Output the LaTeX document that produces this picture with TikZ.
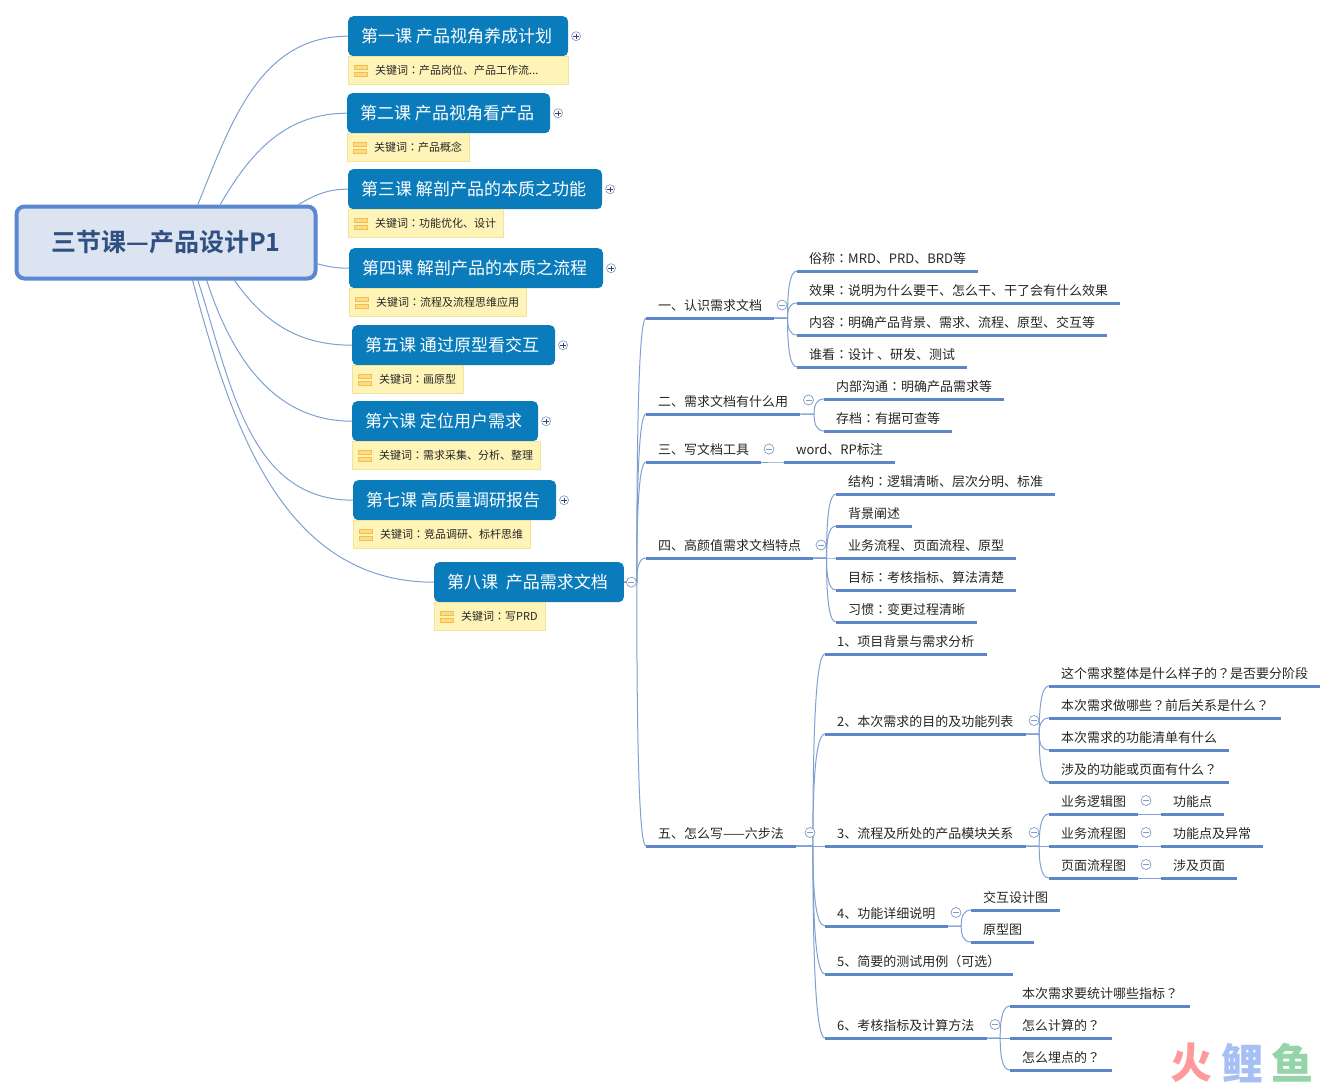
\documentclass[tikz,border=0pt]{standalone}
\usepackage{fontspec}
\setmainfont{Noto Sans CJK SC}[BoldFont=* Bold]
\newfontfamily\tcfont{Noto Sans CJK TC}
\newfontfamily\markfont{Noto Sans CJK SC Black}
\newcommand\cln{{\tcfont ：}}
\newcommand\qmk{{\tcfont ？}}
\usetikzlibrary{calc,backgrounds,positioning}
\definecolor{rootfill}{HTML}{DCE4F2}
\definecolor{rootline}{HTML}{5B88D0}
\definecolor{rootink}{HTML}{2F5080}
\definecolor{lesson}{HTML}{0A7CBC}
\definecolor{notefill}{HTML}{FFF4B8}
\definecolor{noteline}{HTML}{F6E39A}
\definecolor{noteicon}{HTML}{F3BE55}
\definecolor{noteinner}{HTML}{FFDB80}
\definecolor{branch}{HTML}{5C86C6}
\definecolor{thin}{HTML}{7FA0D2}
\definecolor{ink}{HTML}{262626}
\definecolor{btnline}{HTML}{8C9CC4}
\definecolor{btnink}{HTML}{33407A}
\definecolor{markred}{HTML}{FF9A9A}
\definecolor{markblue}{HTML}{A6C0F5}
\definecolor{markgreen}{HTML}{94D4A8}
\tikzset{
  rootnode/.style={shape=rectangle,rounded corners=8pt,draw=rootline,fill=rootfill,line width=4pt,text=rootink,font=\bfseries\fontsize{25pt}{28pt}\selectfont,minimum width=299pt,minimum height=72pt},
  lessonnode/.style={shape=rectangle,rounded corners=5pt,fill=lesson,text=white,font=\fontsize{17pt}{20pt}\selectfont,anchor=north west,minimum height=40pt,inner xsep=13pt,inner ysep=0pt,execute at end node={\hspace*{3pt}}},
  notenode/.style={shape=rectangle,draw=noteline,fill=notefill,text=ink,font=\fontsize{11pt}{13pt}\selectfont,anchor=north west,minimum height=28pt,inner xsep=7pt,inner ysep=0pt},
  barsnode/.style={shape=rectangle,minimum width=14pt,minimum height=12pt,inner sep=0pt,path picture={
      \draw[draw=noteicon,fill=noteinner,line width=.8pt] ([shift={(.4pt,-.4pt)}]path picture bounding box.north west) rectangle ([shift={(-.4pt,1.5pt)}]path picture bounding box.east);
      \draw[draw=noteicon,fill=noteinner,line width=.8pt] ([shift={(.4pt,-1.5pt)}]path picture bounding box.west) rectangle ([shift={(-.4pt,.4pt)}]path picture bounding box.south east);}},
  leaf/.style={shape=rectangle,anchor=south west,text=ink,font=\fontsize{13pt}{15pt}\selectfont,inner xsep=12pt,inner ysep=4pt,text height=10pt,text depth=3pt,
    append after command={(\tikzlastnode.south west) edge[uline] (\tikzlastnode.south east)}},
  uline/.style={draw=branch,line width=3pt},
  stem/.style={draw=thin,line width=1pt},
  bendto/.style={draw=thin,line width=1pt,to path={let \p1=(\tikztostart),\p2=(\tikztotarget),\p3=({\x1+0.58*(\x2-\x1)},\y1) in
      -- (\p3) .. controls ($(\p3)!0.55!(\x3,\y2)$) and ({\x3+0.2*(\x2-\x3)},\y2) .. (\p2)}},
  plusbtn/.style={shape=circle,draw=btnline,fill=white,minimum size=9pt,inner sep=0pt,line width=.7pt,path picture={
      \draw[btnink,line width=.8pt] ([xshift=1.8pt]path picture bounding box.west) -- ([xshift=-1.8pt]path picture bounding box.east);
      \draw[btnink,line width=.8pt] ([yshift=-1.8pt]path picture bounding box.north) -- ([yshift=1.8pt]path picture bounding box.south);}},
  minusbtn/.style={shape=circle,draw=thin!85!gray,fill=white,minimum size=10pt,inner sep=0pt,line width=.7pt,path picture={
      \draw[thin!85!gray,line width=.8pt] ([xshift=2pt]path picture bounding box.west) -- ([xshift=-2pt]path picture bounding box.east);}},
  markchar/.style={font=\markfont\fontsize{42pt}{44pt}\selectfont,inner sep=0pt}
}
\begin{document}
\begin{tikzpicture}[x=1pt,y=-1pt]
    \useasboundingbox (0,0) rectangle (1338,1087);

    \node[rootnode] (root) at (166,242.5) {三节课—产品设计P1};

    \node[lessonnode] (c1) at (348,16) {第一课 产品视角养成计划};
    \node[lessonnode] (c2) at (347,93) {第二课 产品视角看产品};
    \node[lessonnode] (c3) at (348,169) {第三课 解剖产品的本质之功能};
    \node[lessonnode] (c4) at (349,248) {第四课 解剖产品的本质之流程};
    \node[lessonnode] (c5) at (352,325) {第五课 通过原型看交互};
    \node[lessonnode] (c6) at (352,401) {第六课 定位用户需求};
    \node[lessonnode] (c7) at (353,480) {第七课 高质量调研报告};
    \node[lessonnode] (c8) at (434,562) {第八课~~产品需求文档};

    \node[notenode,minimum width=220pt,align=left,text width=206pt] (n1) at (c1.south west) {\hspace*{20pt}关键词\cln 产品岗位、产品工作流...};
    \node[notenode] (n2) at (c2.south west) {\hspace*{20pt}关键词\cln 产品概念};
    \node[notenode] (n3) at (c3.south west) {\hspace*{20pt}关键词\cln 功能优化、设计};
    \node[notenode] (n4) at (c4.south west) {\hspace*{20pt}关键词\cln 流程及流程思维应用};
    \node[notenode] (n5) at (c5.south west) {\hspace*{20pt}关键词\cln 画原型};
    \node[notenode] (n6) at (c6.south west) {\hspace*{20pt}关键词\cln 需求采集、分析、整理};
    \node[notenode] (n7) at (c7.south west) {\hspace*{20pt}关键词\cln 竞品调研、标杆思维};
    \node[notenode] (n8) at (c8.south west) {\hspace*{20pt}关键词\cln 写PRD};

    \node[barsnode,right=6pt of n1.west] (i1) {};
    \node[barsnode,right=6pt of n2.west] (i2) {};
    \node[barsnode,right=6pt of n3.west] (i3) {};
    \node[barsnode,right=6pt of n4.west] (i4) {};
    \node[barsnode,right=6pt of n5.west] (i5) {};
    \node[barsnode,right=6pt of n6.west] (i6) {};
    \node[barsnode,right=6pt of n7.west] (i7) {};
    \node[barsnode,right=6pt of n8.west] (i8) {};

    \node[plusbtn,right=3pt of c1] (p1) {};
    \node[plusbtn,right=3pt of c2] (p2) {};
    \node[plusbtn,right=3pt of c3] (p3) {};
    \node[plusbtn,right=3pt of c4] (p4) {};
    \node[plusbtn,right=3pt of c5] (p5) {};
    \node[plusbtn,right=3pt of c6] (p6) {};
    \node[plusbtn,right=3pt of c7] (p7) {};
    \node[minusbtn,right=2pt of c8] (p8) {};

    \node[leaf] (s1) at (646,318) {一、认识需求文档};
    \node[leaf] (s2) at (646,414) {二、需求文档有什么用};
    \node[leaf] (s3) at (646,462) {三、写文档工具};
    \node[leaf] (s4) at (646,558) {四、高颜值需求文档特点};
    \node[leaf] (s5) at (646,846) {五、怎么写——六步法};

    \node[leaf] (a1) at (797,271) {俗称\cln MRD、PRD、BRD等};
    \node[leaf] (a2) at (797,303) {效果\cln 说明为什么要干、怎么干、干了会有什么效果};
    \node[leaf] (a3) at (797,335) {内容\cln 明确产品背景、需求、流程、原型、交互等};
    \node[leaf] (a4) at (797,367) {谁看\cln 设计 、研发、测试};

    \node[leaf] (b1) at (824,399) {内部沟通\cln 明确产品需求等};
    \node[leaf] (b2) at (824,431) {存档\cln 有据可查等};

    \node[leaf] (w1) at (784,462) {word、RP标注};

    \node[leaf] (d1) at (836,494) {结构\cln 逻辑清晰、层次分明、标准};
    \node[leaf] (d2) at (836,526) {背景阐述};
    \node[leaf] (d3) at (836,558) {业务流程、页面流程、原型};
    \node[leaf] (d4) at (836,590) {目标\cln 考核指标、算法清楚};
    \node[leaf] (d5) at (836,622) {习惯\cln 变更过程清晰};

    \node[leaf] (e1) at (825,654) {1、项目背景与需求分析};
    \node[leaf] (e2) at (825,734) {2、本次需求的目的及功能列表};
    \node[leaf] (e3) at (825,846) {3、流程及所处的产品模块关系};
    \node[leaf] (e4) at (825,926) {4、功能详细说明};
    \node[leaf] (e5) at (825,974) {5、简要的测试用例（可选）};
    \node[leaf] (e6) at (825,1038) {6、考核指标及计算方法};

    \node[leaf] (f1) at (1049,686) {这个需求整体是什么样子的\qmk 是否要分阶段};
    \node[leaf] (f2) at (1049,718) {本次需求做哪些\qmk 前后关系是什么\qmk};
    \node[leaf] (f3) at (1049,750) {本次需求的功能清单有什么};
    \node[leaf] (f4) at (1049,782) {涉及的功能或页面有什么\qmk};

    \node[leaf] (g1) at (1049,814) {业务逻辑图};
    \node[leaf] (g2) at (1049,846) {业务流程图};
    \node[leaf] (g3) at (1049,878) {页面流程图};

    \node[leaf] (h1) at (1161,814) {功能点};
    \node[leaf] (h2) at (1161,846) {功能点及异常};
    \node[leaf] (h3) at (1161,878) {涉及页面};

    \node[leaf] (j1) at (971,910) {交互设计图};
    \node[leaf] (j2) at (971,942) {原型图};

    \node[leaf] (k1) at (1010,1006) {本次需求要统计哪些指标\qmk};
    \node[leaf] (k2) at (1010,1038) {怎么计算的\qmk};
    \node[leaf] (k3) at (1010,1070) {怎么埋点的\qmk};

    \node[minusbtn] (m1) at (782,305) {};
    \node[minusbtn] (m2) at (808.5,400) {};
    \node[minusbtn] (m3) at (769,449) {};
    \node[minusbtn] (m4) at (821,545) {};
    \node[minusbtn] (m5) at (810,832.5) {};
    \node[minusbtn] (m6) at (1034,720.5) {};
    \node[minusbtn] (m7) at (1034,832.5) {};
    \node[minusbtn] (m8) at (956,912.5) {};
    \node[minusbtn] (m9) at (995,1024.5) {};
    \node[minusbtn] (m10) at (1146,800.5) {};
    \node[minusbtn] (m11) at (1146,832.5) {};
    \node[minusbtn] (m12) at (1146,864.5) {};

    \node[markchar,text=markred] (mark1) at (1191,1063) {火};
    \node[markchar,text=markblue] (mark2) at (1242,1063) {鲤};
    \node[markchar,text=markgreen] (mark3) at (1292,1063) {鱼};

    \begin{scope}[on background layer]
    \path [stem](root.50) edge[out=68,in=180] (c1.west);
    \path [stem](root.35) edge[out=60,in=180] (c2.west);
    \path [stem](root.16) edge[out=30,in=180] (c3.west);
    \path [stem](root.-8) edge[out=-15,in=180] (c4.west);
    \path [stem](root.-29) edge[out=-55,in=180] (c5.west);
    \path [stem](root.-43) edge[out=-72,in=180] (c6.west);
    \path [stem](root.-50) edge[out=-72,in=180] (c7.west);
    \path [stem](root.-55) edge[out=-75,in=180] (c8.west);

    \path [bendto](c8.east) edge (s1.south west);
    \path [bendto](c8.east) edge (s2.south west);
    \path [bendto](c8.east) edge (s3.south west);
    \path [bendto](c8.east) edge (s4.south west);
    \path [bendto](c8.east) edge (s5.south west);
    \path [bendto](s1.south east) edge (a1.south west);
    \path [bendto](s1.south east) edge (a2.south west);
    \path [bendto](s1.south east) edge (a3.south west);
    \path [bendto](s1.south east) edge (a4.south west);
    \path [bendto](s2.south east) edge (b1.south west);
    \path [bendto](s2.south east) edge (b2.south west);
    \path [bendto](s3.south east) edge (w1.south west);
    \path [bendto](s4.south east) edge (d1.south west);
    \path [bendto](s4.south east) edge (d2.south west);
    \path [bendto](s4.south east) edge (d3.south west);
    \path [bendto](s4.south east) edge (d4.south west);
    \path [bendto](s4.south east) edge (d5.south west);
    \path [bendto](s5.south east) edge (e1.south west);
    \path [bendto](s5.south east) edge (e2.south west);
    \path [bendto](s5.south east) edge (e3.south west);
    \path [bendto](s5.south east) edge (e4.south west);
    \path [bendto](s5.south east) edge (e5.south west);
    \path [bendto](s5.south east) edge (e6.south west);
    \path [bendto](e2.south east) edge (f1.south west);
    \path [bendto](e2.south east) edge (f2.south west);
    \path [bendto](e2.south east) edge (f3.south west);
    \path [bendto](e2.south east) edge (f4.south west);
    \path [bendto](e3.south east) edge (g1.south west);
    \path [bendto](e3.south east) edge (g2.south west);
    \path [bendto](e3.south east) edge (g3.south west);
    \path [bendto](g1.south east) edge (h1.south west);
    \path [bendto](g2.south east) edge (h2.south west);
    \path [bendto](g3.south east) edge (h3.south west);
    \path [bendto](e4.south east) edge (j1.south west);
    \path [bendto](e4.south east) edge (j2.south west);
    \path [bendto](e6.south east) edge (k1.south west);
    \path [bendto](e6.south east) edge (k2.south west);
    \path [bendto](e6.south east) edge (k3.south west);
    \end{scope}

\end{tikzpicture}
\end{document}
